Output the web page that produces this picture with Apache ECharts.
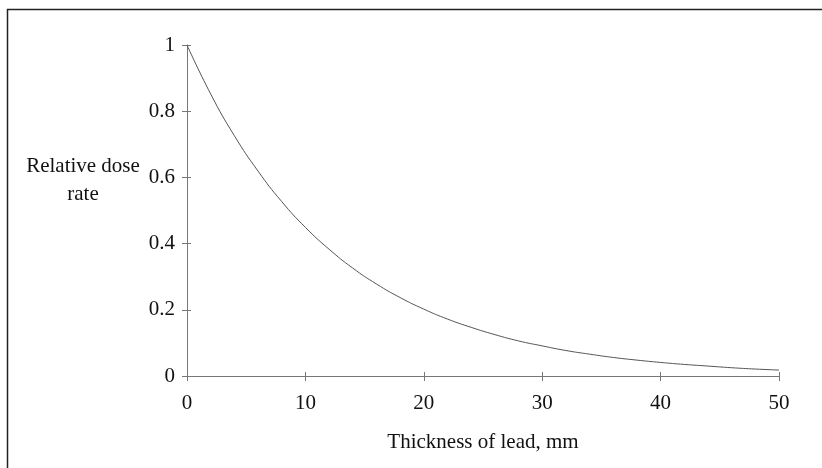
<!DOCTYPE html>
<html><head><meta charset="utf-8">
<script src="https://cdn.jsdelivr.net/npm/echarts@6/dist/echarts.min.js"></script>
<style>html,body{margin:0;padding:0;background:#fff}#c{width:822px;height:468px}</style>
</head><body><div id="c"></div>
<script>
const thickness = [0,2,4,6,8,10,12,14,16,18,20,22,24,26,28,30,32,34,36,38,40,42,44,46,48,50];
const doseRate  = [1.0,0.852,0.726,0.619,0.527,0.449,0.383,0.326,0.278,0.237,0.202,0.172,0.147,0.125,0.106,0.091,0.077,0.066,0.056,0.048,0.041,0.035,0.030,0.025,0.021,0.018];
const xTicks = [0,10,20,30,40,50];
const yTicks = [0,0.2,0.4,0.6,0.8,1];
const xTitle = "Thickness of lead, mm";
const yTitle = "Relative dose\nrate";

const font = "Liberation Serif";
const tickStyle = {color:'#777',width:1};
const chart = echarts.init(document.getElementById('c'));
chart.setOption({
  animation:false,
  backgroundColor:'#fff',
  textStyle:{fontFamily:font},
  grid:{left:187,right:43,top:45,bottom:92,containLabel:false},
  xAxis:[{type:'value',min:xTicks[0],max:xTicks[xTicks.length-1],interval:10,
    name:xTitle,nameLocation:'middle',nameGap:56,
    nameTextStyle:{fontFamily:font,fontSize:21,color:'#111'},
    axisLine:{lineStyle:tickStyle},
    axisTick:{show:true,length:5,lineStyle:tickStyle},
    axisLabel:{fontFamily:font,fontSize:21,color:'#111',margin:17},
    splitLine:{show:false}},
   {type:'value',position:'bottom',min:0,max:50,interval:10,
    axisLine:{show:false},axisTick:{show:true,inside:true,length:4,lineStyle:tickStyle},
    axisLabel:{show:false},splitLine:{show:false}}],
  yAxis:[{type:'value',min:yTicks[0],max:yTicks[yTicks.length-1],interval:0.2,
    axisLine:{show:true,lineStyle:tickStyle},
    axisTick:{show:true,length:5,lineStyle:tickStyle},
    axisLabel:{fontFamily:font,fontSize:21,color:'#111',margin:12,
      formatter:v=>String(Math.round(v*10)/10)},
    splitLine:{show:false}},
   {type:'value',position:'left',min:0,max:1,interval:0.2,
    axisLine:{show:false},axisTick:{show:true,inside:true,length:4,lineStyle:tickStyle},
    axisLabel:{show:false},splitLine:{show:false}}],
  graphic:[
    {type:'rect',shape:{x:7.5,y:9.5,width:830,height:470},style:{fill:'none',stroke:'#222',lineWidth:1.5},silent:true},
    {type:'text',x:83,y:180,style:{text:yTitle,font:'21px "Liberation Serif"',fill:'#111',textAlign:'center',textVerticalAlign:'middle',lineHeight:28}}
  ],
  series:[{type:'line',data:thickness.map((x,i)=>[x,doseRate[i]]),smooth:true,showSymbol:false,
    lineStyle:{color:'#555',width:1}}]
});
</script></body></html>
